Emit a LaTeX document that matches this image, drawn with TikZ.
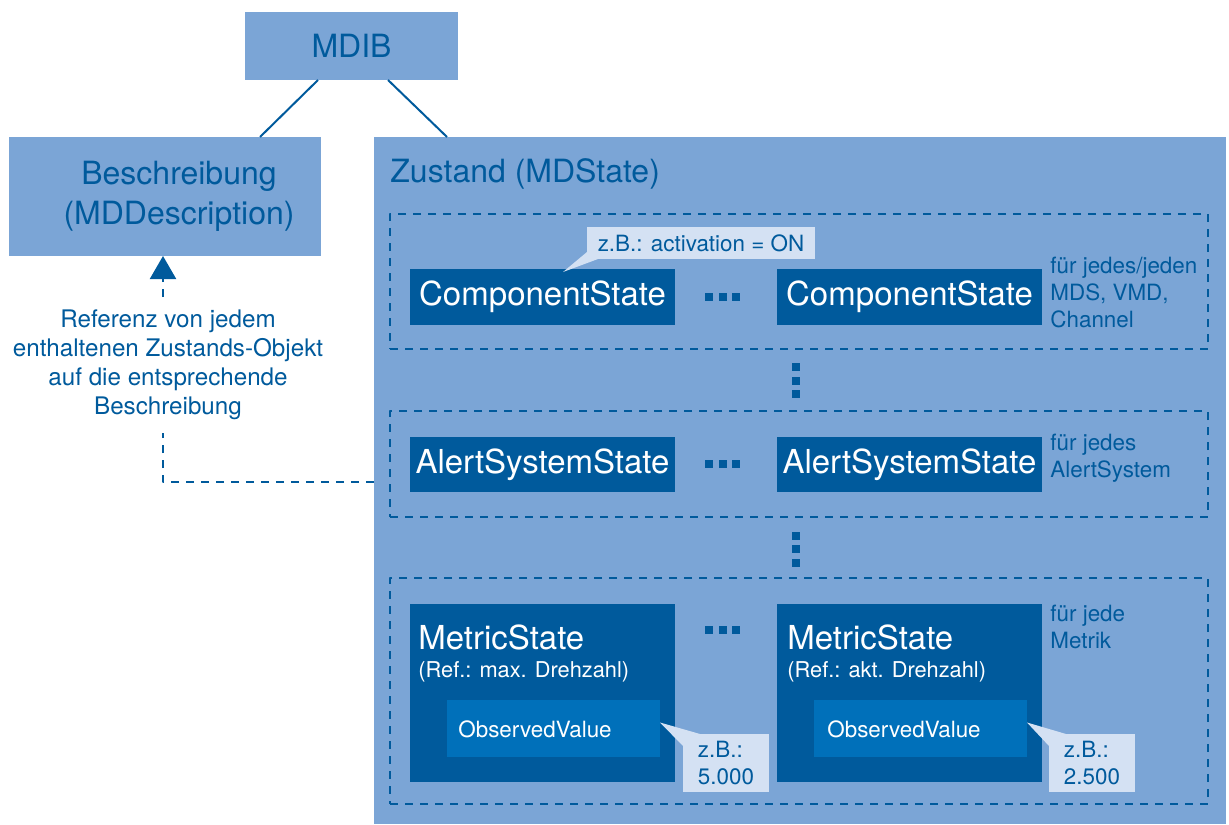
\documentclass[tikz,border=0pt]{standalone}
\usepackage{fontspec}
\setmainfont{TeX Gyre Heros}
\usetikzlibrary{calc,arrows.meta}
\definecolor{hellblau}{HTML}{7BA5D6}
\definecolor{dunkelblau}{HTML}{005A9C}
\definecolor{mittelblau}{HTML}{0070BA}
\definecolor{blassblau}{HTML}{D4E1F3}
\newcommand\grossschrift{\fontsize{16}{20}\selectfont}
\newcommand\zustandschrift{\fontsize{16.5}{20}\selectfont}
\newcommand\mittelschrift{\fontsize{12.1}{14.5}\selectfont}
\newcommand\kleinschrift{\fontsize{11.2}{13.3}\selectfont}
\tikzset{
  groesse/.style 2 args={minimum width=#1*0.5pt, minimum height=#2*0.5pt},
  flaeche/.style={fill=hellblau, text=dunkelblau, inner sep=0pt, outer sep=0pt},
  zustandbox/.style={fill=dunkelblau, text=white, inner sep=0pt, outer sep=0pt, font=\zustandschrift},
  wertbox/.style={fill=mittelblau, inner sep=0pt, outer sep=0pt},
  hinweis/.style={fill=blassblau, text=dunkelblau, inner sep=0pt, outer sep=0pt, align=left, font=\kleinschrift},
  gruppe/.style={draw=dunkelblau, line width=1.15pt, dash pattern=on 4pt off 3.5pt, inner sep=0pt},
  verweis/.style={draw=dunkelblau, line width=1.1pt, dash pattern=on 4pt off 3.5pt},
  notiz/.style={text=dunkelblau, font=\kleinschrift, align=left, inner sep=0pt}
}
\begin{document}
\begin{tikzpicture}[x=0.5pt, y=-0.5pt, line join=round]
\useasboundingbox (0,0) rectangle (1229,824);
% Kopf mit Beschreibung und Zustand
\node[flaeche, groesse={213}{68}, font=\grossschrift] (mdib) at (351.5,46) {MDIB};
\node[flaeche, groesse={312}{119}] (beschr) at (165,196.5) {};
\node[text=dunkelblau, font=\grossschrift, align=center, inner sep=0pt] (beschrtext) at (179,196.5) {Beschreibung\\(MDDescription)};
\node[flaeche, groesse={852}{687}] (zustand) at (800,480.5) {};
\node[anchor=west, text=dunkelblau, font=\grossschrift, inner sep=0pt] (ztitel) at (390,174) {Zustand (MDState)};
\draw[dunkelblau, line width=1pt] ($(mdib.south)+(-33.5,0)$) -- ($(beschr.north east)+(-61,0)$);
\draw[dunkelblau, line width=1pt] ($(mdib.south)+(36.5,0)$) -- ($(zustand.north west)+(73,0)$);
% Gruppen
\node[gruppe, groesse={818}{135}] (g1) at (799,281.5) {};
\node[gruppe, groesse={818}{106}] (g2) at (799,464) {};
\node[gruppe, groesse={818}{226}] (g3) at (799,691) {};
\node[zustandbox, groesse={265}{56}] (cs1) at (542.5,297) {ComponentState};
\node[zustandbox, groesse={265}{56}] (cs2) at (909.5,297) {ComponentState};
\node[zustandbox, groesse={265}{55}] (as1) at (542.5,464.5) {AlertSystemState};
\node[zustandbox, groesse={265}{55}] (as2) at (909.5,464.5) {AlertSystemState};
\node[zustandbox, groesse={265}{178}] (ms1) at (542.5,693) {};
\node[zustandbox, groesse={265}{178}] (ms2) at (909.5,693) {};
\node[wertbox, groesse={213}{57}] (ov1) at (553.5,728.5) {};
\node[wertbox, groesse={213}{57}] (ov2) at (920.5,728.5) {};
\foreach \x/\n/\r in {418/1/max., 787/2/akt.}{
  \node[anchor=base west, text=white, font=\zustandschrift, inner sep=0pt] (ms\n t) at (\x,649) {MetricState};
  \node[anchor=base west, text=white, font=\fontsize{10.9}{13}\selectfont, inner sep=0pt] (ms\n r) at (\x,677) {(Ref.: \r{} Drehzahl)};
  \node[anchor=base west, text=white, font=\kleinschrift, inner sep=0pt] (ov\n t) at (\x+40,737) {ObservedValue};
}
% Punkte
\foreach \y in {297,464,630} \foreach \x in {709,722.5,736}
  \fill[dunkelblau] (\x-4,\y-4) rectangle (\x+4,\y+4);
\foreach \y in {367,381,394,536,549,563}
  \fill[dunkelblau] (792,\y-4) rectangle (800,\y+4);
% Hinweise
\node[hinweis, groesse={228}{32}] (c1) at (701,243) {z.B.: activation = ON};
\fill[blassblau] ($(c1.south west)+(-24,13)$) -- ($(c1.south west)+(0,-7)$) -- ($(c1.south west)+(11,0)$) -- cycle;
\node[hinweis, groesse={86}{58}] (c2) at (726,763) {z.B.:\\5.000};
\fill[blassblau] ($(ov1.east)+(0,-6)$) -- ($(c2.north west)+(17,0)$) -- ($(c2.north west)+(0,12)$) -- cycle;
\node[hinweis, groesse={86}{58}] (c3) at (1092,763) {z.B.:\\2.500};
\fill[blassblau] ($(ov2.east)+(0,-6)$) -- ($(c3.north west)+(17,0)$) -- ($(c3.north west)+(0,12)$) -- cycle;
\node[notiz, anchor=north west] (f1) at (1050,257) {für jedes/jeden\\MDS, VMD,\\Channel};
\node[notiz, anchor=north west] (f2) at (1050,434) {für jedes\\AlertSystem};
\node[notiz, anchor=north west] (f3) at (1050,605) {für jede\\Metrik};
% Verweis auf die Beschreibung
\node[text=dunkelblau, font=\mittelschrift, align=center, inner sep=0pt, outer ysep=6.5pt] (referenz) at (168,365) {Referenz von jedem\\enthaltenen Zustands-Objekt\\auf die entsprechende\\Beschreibung};
\coordinate (knick) at (163,482);
\draw[verweis] (zustand.west |- knick) -- (knick) -- (knick |- referenz.south);
\draw[verweis, -{Triangle[width=13pt,length=11.5pt]}] (knick |- referenz.north) -- (knick |- beschr.south);
\end{tikzpicture}
\end{document}
